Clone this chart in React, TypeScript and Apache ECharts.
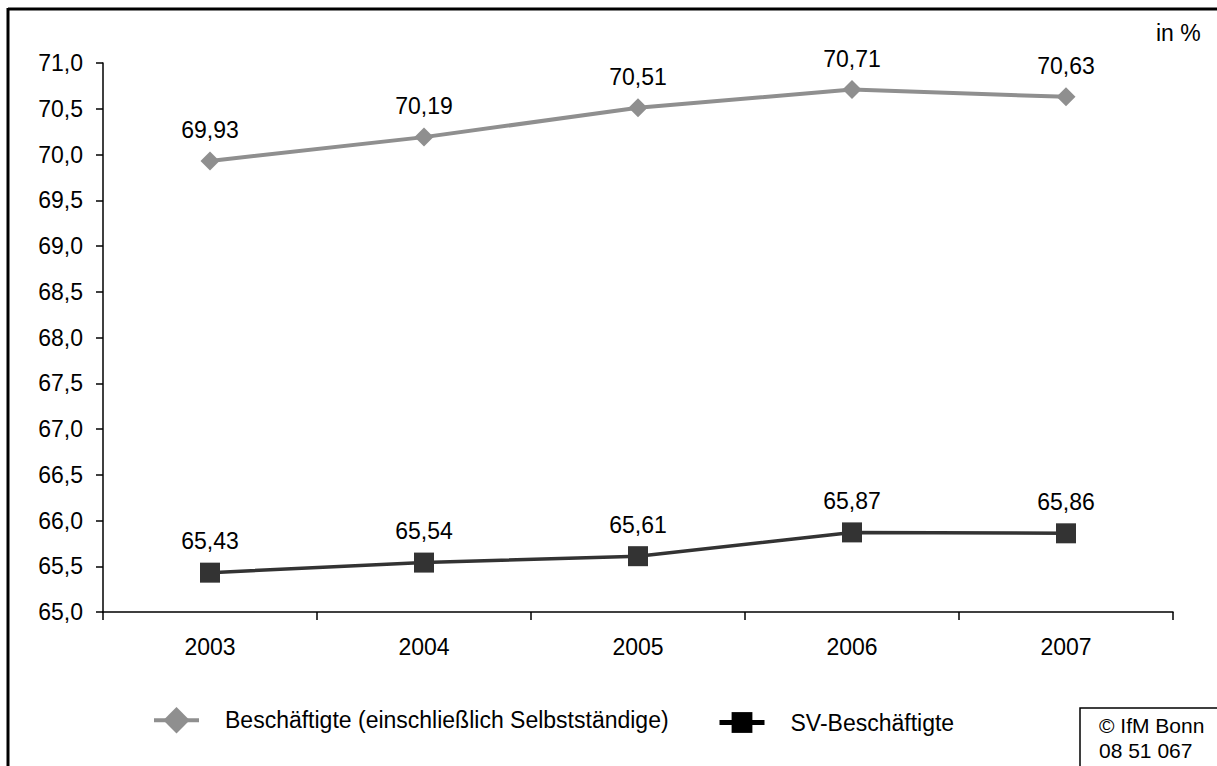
import React, { useEffect, useRef } from 'react';
import * as echarts from 'echarts';

// Erwerbstätigenquote, in %
const years = ['2003', '2004', '2005', '2006', '2007'];
const beschaeftigte = [69.93, 70.19, 70.51, 70.71, 70.63];
const svBeschaeftigte = [65.43, 65.54, 65.61, 65.87, 65.86];
const seriesNames = ['Beschäftigte (einschließlich Selbstständige)', 'SV-Beschäftigte'];
const yMin = 65;
const yMax = 71;
const yStep = 0.5;

const FONT = '"Liberation Sans", Arial, sans-serif';
const FS = 23;
const GRAY = '#8f8f8f';
const DARK = '#333';
const fmt = (v: number, digits: number) => v.toFixed(digits).replace('.', ',');

const App: React.FC = () => {
  const chartRef = useRef<HTMLDivElement>(null);

  useEffect(() => {
    if (!chartRef.current) return;
    const chart = echarts.init(chartRef.current, null, { renderer: 'svg' });

    const legendText = { fontFamily: FONT, fontSize: FS, color: '#000', padding: [0, 0, 0, 21] };

    const dataLabel = {
      show: true,
      position: 'top' as const,
      distance: 10,
      fontSize: FS,
      color: '#000',
      fontFamily: FONT,
      formatter: (p: any) => fmt(p.value, 2)
    };

    const option: echarts.EChartsOption = {
      animation: false,
      backgroundColor: '#fff',
      textStyle: { fontFamily: FONT },
      grid: { left: 103, right: 44, top: 63, bottom: 154, containLabel: false },
      legend: [
        {
          left: 152,
          top: 707,
          padding: 0,
          itemWidth: 45,
          itemHeight: 33,
          selectedMode: false,
          textStyle: legendText,
          data: [
            {
              name: seriesNames[0],
              itemStyle: { color: GRAY },
              lineStyle: { color: GRAY, width: 4 }
            }
          ]
        },
        {
          left: 717,
          top: 711,
          padding: 0,
          itemWidth: 45,
          itemHeight: 26,
          selectedMode: false,
          textStyle: legendText,
          data: [
            {
              name: seriesNames[1],
              itemStyle: { color: '#000' },
              lineStyle: { color: '#000', width: 5 }
            }
          ]
        }
      ],
      xAxis: {
        type: 'category',
        data: years,
        boundaryGap: true,
        axisLine: { lineStyle: { color: '#000', width: 1.5 } },
        axisTick: { show: true, length: 8, inside: false, lineStyle: { color: '#000', width: 1.5 } },
        axisLabel: { fontSize: FS, color: '#000', margin: 23, fontFamily: FONT },
        splitLine: { show: false }
      },
      yAxis: {
        type: 'value',
        min: yMin,
        max: yMax,
        interval: yStep,
        axisLine: { show: true, lineStyle: { color: '#000', width: 1.5 } },
        axisTick: { show: true, length: 7, lineStyle: { color: '#000', width: 1.5 } },
        axisLabel: {
          fontSize: FS,
          color: '#000',
          margin: 20,
          fontFamily: FONT,
          formatter: (v: number) => fmt(v, 1)
        },
        splitLine: { show: false }
      },
      series: [
        {
          name: seriesNames[0],
          type: 'line',
          data: beschaeftigte,
          symbol: 'diamond',
          symbolSize: 19,
          color: GRAY,
          lineStyle: { color: GRAY, width: 4 },
          itemStyle: { color: GRAY },
          label: dataLabel
        },
        {
          name: seriesNames[1],
          type: 'line',
          data: svBeschaeftigte,
          symbol: 'rect',
          symbolSize: 20,
          color: DARK,
          lineStyle: { color: DARK, width: 3.5 },
          itemStyle: { color: DARK },
          label: dataLabel
        }
      ],
      graphic: [
        // outer frame (only top and left edges are visible)
        { type: 'line', shape: { x1: 8, y1: 9, x2: 1217, y2: 9 }, style: { stroke: '#000', lineWidth: 3 } },
        { type: 'line', shape: { x1: 8, y1: 8, x2: 8, y2: 766 }, style: { stroke: '#000', lineWidth: 3 } },
        {
          type: 'text',
          left: 1156,
          top: 21,
          style: { text: 'in %', fontSize: FS, fill: '#000', fontFamily: FONT }
        },
        {
          type: 'rect',
          shape: { x: 1080, y: 708, width: 200, height: 120 },
          style: { fill: '#fff', stroke: '#000', lineWidth: 1.5 }
        },
        {
          type: 'text',
          x: 1099,
          y: 713,
          style: { text: '© IfM Bonn\n08 51 067', fontSize: 21, lineHeight: 25, fill: '#000', fontFamily: FONT }
        }
      ]
    };

    chart.setOption(option);
    return () => chart.dispose();
  }, []);

  return (
    <div
      ref={chartRef}
      style={{ position: 'fixed', left: 0, top: 0, width: 1217, height: 766, background: '#fff' }}
    />
  );
};

export default App;
